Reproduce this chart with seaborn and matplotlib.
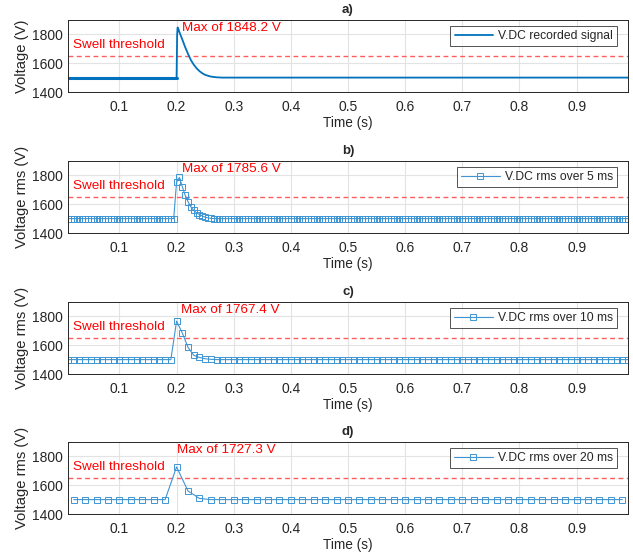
import numpy as np
import pandas as pd
import matplotlib
matplotlib.use("Agg")
import matplotlib.pyplot as plt
import seaborn as sns

sns.set_style("white")
plt.rcParams['font.family'] = ['Liberation Sans', 'DejaVu Sans']

# ---------------- data ----------------
baseline = 1500.0
threshold = 1650.0

# a) recorded signal (key points of the transient)
a_t = [0.01, 0.1995, 0.2, 0.201, 0.2015, 0.202, 0.2025, 0.203, 0.205, 0.21, 0.215,
       0.22, 0.225, 0.23, 0.235, 0.24, 0.245, 0.25, 0.26, 0.27, 0.28, 0.99]
a_v = [1500, 1500, 1500, 1800, 1830, 1848.2, 1822, 1838, 1815, 1765, 1712,
       1665, 1622, 1590, 1565, 1545, 1530, 1519, 1507, 1502, 1500, 1500]
a_max = 1848.2

# b) rms over 5 ms
b_step = 0.005
b_spike_t = [0.2, 0.205, 0.21, 0.215, 0.22, 0.225, 0.23, 0.235, 0.24, 0.245, 0.25, 0.255, 0.26]
b_spike_v = [1755, 1785.6, 1722, 1662, 1618, 1582, 1557, 1540, 1528, 1518, 1510, 1505, 1502]
b_max = 1785.6

# c) rms over 10 ms
c_step = 0.01
c_spike_t = [0.2, 0.21, 0.22, 0.23, 0.24, 0.25, 0.26]
c_spike_v = [1767.4, 1685, 1585, 1530, 1515, 1506, 1502]
c_max = 1767.4

# d) rms over 20 ms
d_step = 0.02
d_spike_t = [0.2, 0.22, 0.24]
d_spike_v = [1727.3, 1560, 1508]
d_max = 1727.3

labels = ["V.DC recorded signal", "V.DC rms over 5 ms", "V.DC rms over 10 ms", "V.DC rms over 20 ms"]
titles = ["a)", "b)", "c)", "d)"]
ylabels = ["Voltage (V)", "Voltage rms (V)", "Voltage rms (V)", "Voltage rms (V)"]
xticks = [0.1, 0.2, 0.3, 0.4, 0.5, 0.6, 0.7, 0.8, 0.9]
yticks = [1400, 1600, 1800]


def build(step, start, spike_t, spike_v):
    t = np.round(np.arange(start, 0.99 + 1e-9, step), 4)
    v = np.full(len(t), baseline)
    for st, sv in zip(spike_t, spike_v):
        v[np.isclose(t, st)] = sv
    return pd.DataFrame({"t": t, "v": v})


df_a = pd.DataFrame({"t": a_t, "v": a_v})
df_b = build(b_step, 0.01, b_spike_t, b_spike_v)
df_c = build(c_step, 0.01, c_spike_t, c_spike_v)
df_d = build(d_step, 0.02, d_spike_t, d_spike_v)

# ---------------- figure ----------------
W, H = 633, 560
fig = plt.figure(figsize=(W / 100, H / 100), dpi=100)
left = 68 / W
right_px = 628
width = (right_px - 68) / W
hgt_px = 72
hgt = hgt_px / H
bottoms_px = [92, 233, 374, 514]

dark = "#0072BD"
light = "#3F95D3"
red = "#FF0000"
tick_fs = 10
txt_fs = 9.7
leg_fs = 8.7

maxes = [a_max, b_max, c_max, d_max]
max_x = [0.21, 0.21, 0.208, 0.2]
dfs = [df_a, df_b, df_c, df_d]

for i in range(4):
    ax = fig.add_axes([left, 1 - bottoms_px[i] / H, width, hgt])
    df = dfs[i]
    if i == 0:
        pre = df[df.t <= 0.2]
        post = df[df.t >= 0.2]
        sns.lineplot(data=pre, x="t", y="v", ax=ax, color=dark, lw=2.2,
                     estimator=None, sort=False, legend=False)
        sns.lineplot(data=post, x="t", y="v", ax=ax, color=dark, lw=1.3,
                     estimator=None, sort=False, label=labels[i])
    else:
        sns.lineplot(data=df, x="t", y="v", ax=ax, color=light, lw=0.8,
                     marker="s", markersize=4.2, mfc="none", mec=light, mew=0.7,
                     estimator=None, sort=False, label=labels[i])
    ax.axhline(threshold, color="#FF5C5C", ls=(0, (3.5, 2.5)), lw=1.0, zorder=1)
    ax.text(0.0185, 1725, "Swell threshold", color=red, fontsize=txt_fs, va="center", ha="left")
    ax.text(max_x[i], 1842, f"Max of {maxes[i]:.1f} V", color=red, fontsize=txt_fs,
            va="center", ha="left")

    ax.set_xlim(0.01, 0.99)
    ax.set_ylim(1400, 1900)
    ax.set_xticks(xticks)
    ax.set_xticklabels([f"{x:g}" for x in xticks])
    ax.set_yticks(yticks)
    ax.grid(True, color="#E3E3E3", lw=0.8)
    ax.set_axisbelow(True)
    ax.tick_params(axis="x", pad=6)
    ax.tick_params(axis="y", pad=4)
    ax.tick_params(direction="in", length=3, width=0.6, labelsize=tick_fs, colors="#262626",
                   top=False, right=False)
    for s in ax.spines.values():
        s.set_color("#262626")
        s.set_linewidth(0.7)
    ax.set_xlabel("Time (s)", fontsize=9.8, color="#262626", labelpad=1)
    ax.set_ylabel(ylabels[i], fontsize=10.6, color="#262626", labelpad=2)
    ax.set_title(titles[i], fontsize=9.5, fontweight="bold", pad=5)
    leg = ax.legend(loc="upper right", fontsize=leg_fs, frameon=True, fancybox=False,
                    edgecolor="#262626", borderaxespad=0,
                    bbox_to_anchor=(1 - 11 / (right_px - 68), 1 - 6 / hgt_px),
                    handlelength=3.2, borderpad=0.35, handletextpad=0.4)
    leg.get_frame().set_linewidth(0.7)

fig.savefig("out.png", dpi=100)
